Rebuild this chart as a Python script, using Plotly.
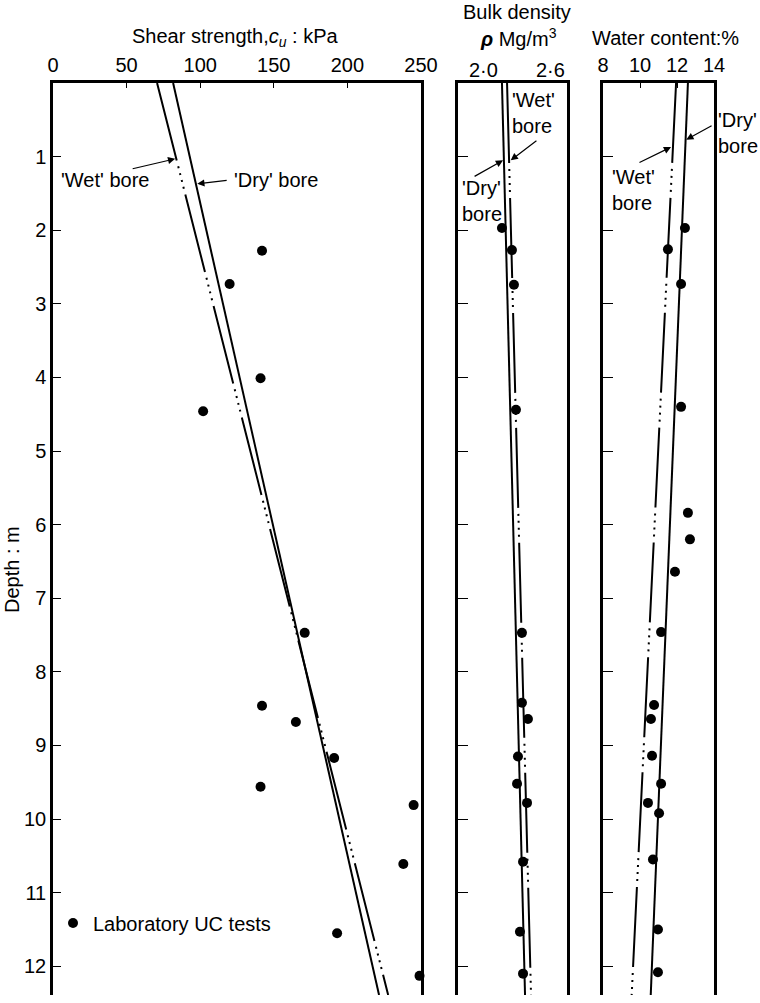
import plotly.graph_objects as go

# ---------------- data ----------------
# Laboratory UC tests: shear strength (kPa) vs depth (m)
cu_depth = [2.28, 2.73, 4.01, 4.46, 7.47, 8.46, 8.68, 9.17, 9.56, 9.81, 10.61, 11.55, 12.13]
cu_kpa = [142, 120, 141, 102, 171, 142, 165, 191, 141, 245, 238, 193, 249]

# Bulk density (Mg/m3) vs depth
rho_depth = [1.97, 2.27, 2.74, 4.44, 7.47, 8.42, 8.64, 9.15, 9.52, 9.78, 10.58, 11.53, 12.10]
rho_val = [2.242, 2.297, 2.308, 2.319, 2.352, 2.352, 2.385, 2.330, 2.325, 2.380, 2.358, 2.341, 2.358]

# Water content (%) vs depth
wc_depth = [1.97, 2.26, 2.73, 4.40, 5.84, 6.20, 6.64, 7.46, 8.45, 8.64, 9.14, 9.52, 9.78, 9.92, 10.55, 11.50, 12.08]
wc_val = [12.43, 11.51, 12.22, 12.22, 12.59, 12.70, 11.89, 11.14, 10.76, 10.59, 10.65, 11.14, 10.43, 11.03, 10.70, 10.97, 10.97]

# Bore trend lines (end points at top and bottom of the plot)
line_depth = [0, 12.39]
cu_wet = [70.7, 227.7]
cu_dry = [81.6, 221.5]
rho_wet = [2.270, 2.402]
rho_dry = [2.242, 2.369]
wc_wet = [11.95, 9.55]
wc_dry = [12.59, 10.58]

depth_ticks = list(range(1, 13))
cu_ticks = [0, 50, 100, 150, 200, 250]
wc_ticks = [8, 10, 12, 14]
rho_ticks = [2.0, 2.6]
rho_tick_text = ["2·0", "2·6"]

# ---------------- styling ----------------
W, H = 760, 1003
FONT = "Liberation Sans"
BLACK = "#000000"
WET_DASH = "80px,6px,2px,5px,2px,5px,2px,5px,2px,6px"


def px_x(p):
    return p / W


def px_y(p):
    return 1 - p / H


fig = go.Figure()

# panel 1 - shear strength
fig.add_trace(go.Scatter(x=cu_wet, y=line_depth, mode="lines", xaxis="x", yaxis="y",
                         line=dict(color=BLACK, width=2, dash=WET_DASH), showlegend=False))
fig.add_trace(go.Scatter(x=cu_dry, y=line_depth, mode="lines", xaxis="x", yaxis="y",
                         line=dict(color=BLACK, width=2), showlegend=False))
fig.add_trace(go.Scatter(x=cu_kpa, y=cu_depth, mode="markers", xaxis="x", yaxis="y",
                         marker=dict(color=BLACK, size=10), cliponaxis=False,
                         name="Laboratory UC tests", showlegend=True))

# panel 2 - bulk density
fig.add_trace(go.Scatter(x=rho_wet, y=line_depth, mode="lines", xaxis="x2", yaxis="y2",
                         line=dict(color=BLACK, width=2, dash=WET_DASH), showlegend=False))
fig.add_trace(go.Scatter(x=rho_dry, y=line_depth, mode="lines", xaxis="x2", yaxis="y2",
                         line=dict(color=BLACK, width=2), showlegend=False))
fig.add_trace(go.Scatter(x=rho_val, y=rho_depth, mode="markers", xaxis="x2", yaxis="y2",
                         marker=dict(color=BLACK, size=10), cliponaxis=False, showlegend=False))

# panel 3 - water content
fig.add_trace(go.Scatter(x=wc_wet, y=line_depth, mode="lines", xaxis="x3", yaxis="y3",
                         line=dict(color=BLACK, width=2, dash=WET_DASH), showlegend=False))
fig.add_trace(go.Scatter(x=wc_dry, y=line_depth, mode="lines", xaxis="x3", yaxis="y3",
                         line=dict(color=BLACK, width=2), showlegend=False))
fig.add_trace(go.Scatter(x=wc_val, y=wc_depth, mode="markers", xaxis="x3", yaxis="y3",
                         marker=dict(color=BLACK, size=10), cliponaxis=False, showlegend=False))

ydom = [px_y(995), px_y(83)]
yrange = [12.39, 0]

xcommon = dict(side="top", showline=True, linewidth=2.5, linecolor=BLACK, ticks="inside",
               tickcolor=BLACK, showgrid=False, zeroline=False, automargin=False,
               tickfont=dict(family=FONT, size=20, color=BLACK))
ycommon = dict(showline=True, mirror=True, linewidth=2.5, linecolor=BLACK, ticks="inside",
               tickcolor=BLACK, showgrid=False, zeroline=False, range=yrange,
               tickvals=depth_ticks, domain=ydom, automargin=False,
               tickfont=dict(family=FONT, size=20, color=BLACK))

fig.update_layout(
    width=W, height=H, autosize=False,
    margin=dict(l=0, r=0, t=0, b=0, pad=0, autoexpand=False),
    paper_bgcolor="white", plot_bgcolor="white",
    font=dict(family=FONT, size=20, color=BLACK),
    xaxis=dict(xcommon, domain=[px_x(53), px_x(421)], range=[0, 250], tickvals=cu_ticks,
               ticklen=5, anchor="y"),
    xaxis2=dict(xcommon, domain=[px_x(458), px_x(567)], range=[2.0, 2.6], tickvals=rho_ticks,
                ticklen=0, showticklabels=False, anchor="y2"),
    xaxis3=dict(xcommon, domain=[px_x(603), px_x(714)], range=[8, 14], tickvals=wc_ticks,
                ticklen=5, anchor="y3"),
    yaxis=dict(ycommon, ticklen=8, anchor="x"),
    yaxis2=dict(ycommon, ticklen=10, showticklabels=False, anchor="x2", matches="y"),
    yaxis3=dict(ycommon, ticklen=10, showticklabels=False, anchor="x3", matches="y"),
    showlegend=True,
    legend=dict(x=px_x(53), y=px_y(923), xanchor="left", yanchor="middle",
                bgcolor="rgba(0,0,0,0)", borderwidth=0, itemwidth=30,
                font=dict(family=FONT, size=20, color=BLACK)),
)

ann = []
# titles
ann.append(dict(text="Shear strength,<i>c<sub>u</sub></i> : kPa", xref="paper", yref="paper",
                x=px_x(235), y=px_y(38), xanchor="center", yanchor="middle", showarrow=False))
ann.append(dict(text="Bulk density", xref="paper", yref="paper",
                x=px_x(517), y=px_y(12), xanchor="center", yanchor="middle", showarrow=False))
ann.append(dict(text="<b><i>ρ</i></b> Mg/m<sup>3</sup>", xref="paper", yref="paper",
                x=px_x(518), y=px_y(38), xanchor="center", yanchor="middle", showarrow=False))
ann.append(dict(text="Water content:%", xref="paper", yref="paper",
                x=px_x(665), y=px_y(38), xanchor="center", yanchor="middle", showarrow=False))
ann.append(dict(text="Depth : m", xref="paper", yref="paper", textangle=-90,
                x=px_x(12), y=px_y(570), xanchor="center", yanchor="middle", showarrow=False))
# density tick labels
ann.append(dict(text=rho_tick_text[0], xref="x2", yref="paper", x=rho_ticks[0], y=px_y(70),
                xanchor="left", yanchor="middle", xshift=9, showarrow=False))
ann.append(dict(text=rho_tick_text[1], xref="x2", yref="paper", x=rho_ticks[1], y=px_y(70),
                xanchor="right", yanchor="middle", xshift=0, showarrow=False))

# bore labels
ann.append(dict(text="'Wet' bore", xref="x", yref="y", x=35.4, y=1.32, showarrow=False,
                xanchor="center", yanchor="middle"))
ann.append(dict(text="'Dry' bore", xref="x", yref="y", x=151.7, y=1.32, showarrow=False,
                xanchor="center", yanchor="middle"))
ann.append(dict(text="'Wet'<br>bore", xref="x2", yref="y2", x=2.286, y=0.41, showarrow=False,
                xanchor="left", yanchor="middle", align="left"))
ann.append(dict(text="'Dry'<br>bore", xref="x2", yref="y2", x=2.011, y=1.60, showarrow=False,
                xanchor="left", yanchor="middle", align="left"))
ann.append(dict(text="'Wet'<br>bore", xref="x3", yref="y3", x=8.38, y=1.45, showarrow=False,
                xanchor="left", yanchor="middle", align="left"))
ann.append(dict(text="'Dry'<br>bore", xref="paper", yref="y3", x=px_x(716), y=0.68,
                showarrow=False, xanchor="left", yanchor="middle", align="left"))

# arrows (tail -> head)
arrows = [
    ("x", "y", 53.1, 1.17, 83.0, 1.03),
    ("x", "y", 119.0, 1.32, 98.0, 1.37),
    ("x2", "y2", 2.440, 0.77, 2.290, 1.05),
    ("x2", "y2", 2.083, 1.28, 2.248, 1.05),
    ("x3", "y3", 9.89, 1.09, 11.68, 0.87),
    ("x3", "y3", 13.95, 0.57, 12.50, 0.77),
]
for xr, yr, tx, ty, hx, hy in arrows:
    ann.append(dict(text="", xref=xr, yref=yr, axref=xr, ayref=yr, x=hx, y=hy, ax=tx, ay=ty,
                    showarrow=True, arrowhead=2, arrowsize=1.2, arrowwidth=1.2,
                    arrowcolor=BLACK, standoff=0, startstandoff=0))

for a in ann:
    a.setdefault("font", dict(family=FONT, size=20, color=BLACK))
fig.update_layout(annotations=ann)

fig.write_html("out.html", config={"displayModeBar": False},
               post_script="document.body.style.margin='0px';document.body.style.overflow='hidden';")
